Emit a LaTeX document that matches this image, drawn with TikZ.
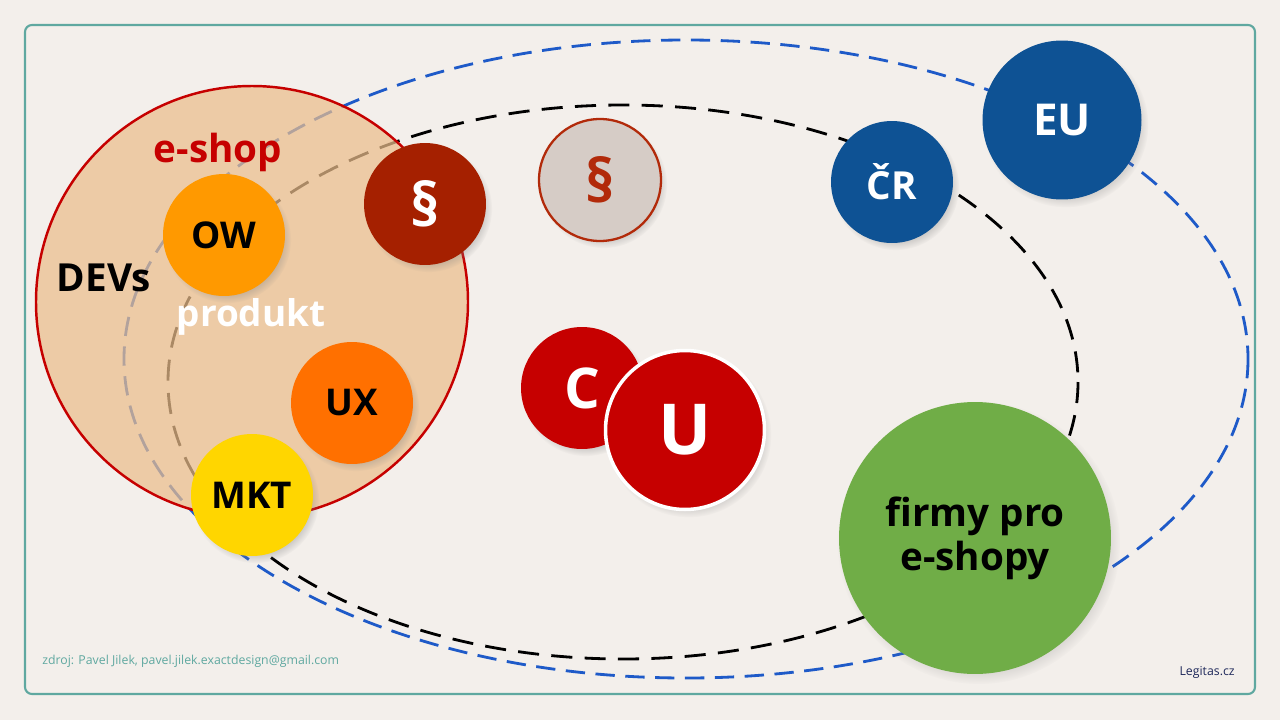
\documentclass[tikz,border=0pt]{standalone}
\usepackage{fontspec}
\setmainfont{Open Sans}
\usetikzlibrary{shadows}

\definecolor{paper}{RGB}{243,239,235}
\definecolor{frameteal}{RGB}{95,168,160}
\definecolor{peach}{RGB}{236,190,140}
\definecolor{shopred}{RGB}{198,0,0}
\definecolor{lawred}{RGB}{165,32,0}
\definecolor{lawgrey}{RGB}{214,204,198}
\definecolor{lawline}{RGB}{178,42,10}
\definecolor{oworange}{RGB}{255,153,0}
\definecolor{uxorange}{RGB}{255,112,0}
\definecolor{mktyellow}{RGB}{255,214,0}
\definecolor{stateblue}{RGB}{14,82,148}
\definecolor{firmgreen}{RGB}{112,173,71}
\definecolor{dashblue}{RGB}{30,90,200}
\definecolor{navy}{RGB}{30,40,90}

\begin{document}
\begin{tikzpicture}[x=0.02cm,y=-0.02cm,
  disc/.style={circle,inner sep=0pt,minimum size=2.44cm,
    circular drop shadow={shadow scale=1.04,shadow xshift=.07cm,shadow yshift=-.09cm,opacity=.35},
    font=\bfseries\fontsize{21}{21}\selectfont},
  bigdisc/.style={disc,minimum size=3.18cm,font=\bfseries\fontsize{25}{25}\selectfont},
  paragraf/.style={font=\bfseries\fontsize{34}{34}\selectfont},
  lbl/.style={inner sep=0pt,font=\bfseries\fontsize{22}{22}\selectfont}]
% background and frame
\fill[paper] (0,0) rectangle (1280,720);
\draw[frameteal,line width=1.2pt,rounded corners=4pt] (25,25) rectangle (1255,694);
% dashed ellipses
\draw[dashblue,line width=1.6pt,dash pattern=on 11pt off 6pt] (686,359) ellipse [x radius=562,y radius=319];
\draw[black,line width=1.6pt,dash pattern=on 12pt off 7pt] (623,382) ellipse [x radius=455,y radius=277];
% e-shop circle
\draw[shopred,line width=1.4pt,fill=peach,fill opacity=.72] (252,302) circle [radius=216];
\node[lbl,shopred] (eshop) at (218,152) {e-shop};
\node[lbl] (devs) at (104,278) {DEVs};
\node[lbl,white,font=\bfseries\fontsize{21}{21}\selectfont] (produkt) at (251,317) {produkt};
% circles
\node[disc,fill=oworange] (ow) at (224,235) {OW};
\node[disc,paragraf,fill=lawred,text=white] (law) at (425,204) {§};
\node[disc,fill=uxorange] (ux) at (352,403) {UX};
\node[disc,fill=mktyellow] (mkt) at (252,495) {MKT};
\node[disc,paragraf,fill=lawgrey,draw=lawline,line width=1.3pt,text=lawline] (lawout) at (600,180) {§};
\node[disc,fill=shopred,text=white,font=\bfseries\fontsize{32}{32}\selectfont] (c) at (582,388) {C};
\node[bigdisc,fill=shopred,draw=white,line width=2pt,text=white,font=\bfseries\fontsize{40}{40}\selectfont] (u) at (685,430) {U};
\node[disc,fill=stateblue,text=white,font=\bfseries\fontsize{22}{22}\selectfont] (cr) at (892,182) {ČR};
\node[bigdisc,fill=stateblue,text=white] (eu) at (1062,120) {EU};
\node[disc,minimum size=5.44cm,fill=firmgreen,align=center,font=\bfseries\fontsize{22}{25}\selectfont] (firmy) at (975,538) {firmy pro\\e-shopy};
% footer
\node[anchor=west,inner sep=0pt,frameteal,font=\fontsize{7}{7}\selectfont] (zdroj) at (42,661) {zdroj: Pavel Jilek, pavel.jilek.exactdesign@gmail.com};
\node[anchor=east,inner sep=0pt,navy,font=\fontsize{7}{7}\selectfont] (legitas) at (1235,672) {Legitas.cz};
\end{tikzpicture}
\end{document}
